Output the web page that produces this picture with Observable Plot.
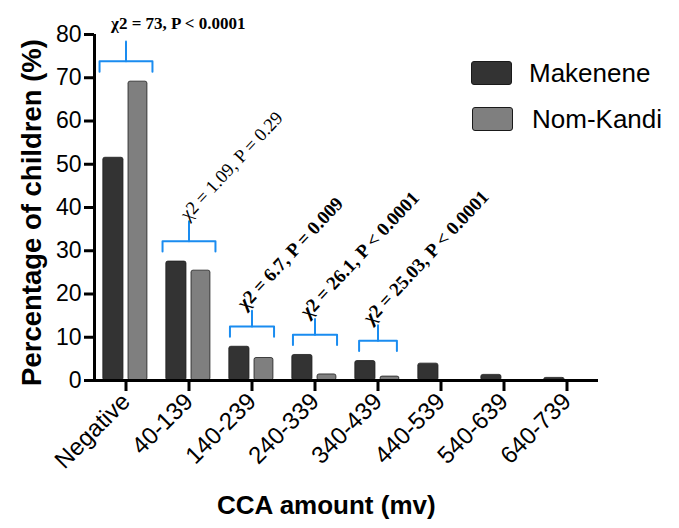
<!DOCTYPE html>
<html><head><meta charset="utf-8">
<script src="https://cdn.jsdelivr.net/npm/d3@7"></script>
<script src="https://cdn.jsdelivr.net/npm/@observablehq/plot@0.6"></script>
<style>
body{margin:0;background:#fff}
#wrap{position:relative;width:679px;height:528px}
.sw{position:absolute;width:39px;height:22px;border-radius:3px;border:1px solid #1a1a1a}
.lt{position:absolute;font-family:"Liberation Sans",Arial,sans-serif;font-size:26px;line-height:26px;color:#000}
</style></head><body><div id="wrap"></div><script>
const categories = ["Negative","40-139","140-239","240-339","340-439","440-539","540-639","640-739"];
const seriesNames = ["Makenene","Nom-Kandi"];
const makenene = [51.5, 27.5, 7.8, 5.9, 4.5, 3.9, 1.3, 0.6];
const nomKandi = [69.1, 25.4, 5.2, 1.4, 0.9, 0, 0, 0];
const yTicks = [0,10,20,30,40,50,60,70,80];
const testCategories = ["Negative","40-139","140-239","240-339","340-439"];
const testLabels = ["χ2 = 73, P < 0.0001","χ2 = 1.09, P = 0.29","χ2 = 6.7, P = 0.009","χ2 = 26.1, P < 0.0001","χ2 = 25.03, P < 0.0001"];
const testBold = [true,false,true,true,true];
const xTitle = "CCA amount (mv)";
const yTitle = "Percentage of children (%)";

const colors = ["#333333","#7f7f7f"];
const sans = "Liberation Sans, Arial, sans-serif";
const serif = "Liberation Serif, Times New Roman, serif";

const barRows = categories.flatMap((c,i) => [
  {cat:c, series:seriesNames[0], value:makenene[i]},
  {cat:c, series:seriesNames[1], value:nomKandi[i]}
]);
const barPos = {"Makenene":[0.14,0.46], "Nom-Kandi":[0.54,0.84]};

const tests = testCategories.map((c,i) => {
  const k = categories.indexOf(c);
  const base = Math.max(makenene[k], nomKandi[k]);
  return {cat:c, label:testLabels[i], bold:testBold[i], i,
          yH: base + 4.7, yEnd: base + 2.3, yTop: base + 4.7 + (i < 2 ? 4.6 : 3.6),
          h: i < 2 ? 0.42 : (i < 4 ? 0.35 : 0.3)};
});
const bracketPts = tests.flatMap(t => [
  {cat:t.cat, id:t.i+"b", x:0.5-t.h, y:t.yEnd},
  {cat:t.cat, id:t.i+"b", x:0.5-t.h, y:t.yH},
  {cat:t.cat, id:t.i+"b", x:0.5+t.h, y:t.yH},
  {cat:t.cat, id:t.i+"b", x:0.5+t.h, y:t.yEnd},
  {cat:t.cat, id:t.i+"s", x:0.5, y:t.yH},
  {cat:t.cat, id:t.i+"s", x:0.5, y:t.yTop}
]);

const chart = Plot.plot({
  width: 679, height: 528,
  marginLeft: 93, marginRight: 81, marginTop: 34, marginBottom: 148,
  style: {background:"white", color:"black", fontFamily: sans, overflow:"visible"},
  fx: {domain: categories, padding: 0, label: null},
  x: {domain: [0,1], axis: null},
  y: {domain: [0,80]},
  color: {domain: seriesNames, range: colors},
  marks: [
    Plot.rect(barRows.filter(d => d.value > 0), {
      fx:"cat", x1: d => barPos[d.series][0], x2: d => barPos[d.series][1],
      y1: 0, y2: "value", fill:"series", stroke:"#1e1e1e", strokeWidth:0.8, rx:2
    }),
    Plot.ruleY([0], {strokeWidth:3}),
    Plot.ruleX([{cat:"Negative"}], {fx:"cat", x:0, y1:0, y2:80, strokeWidth:3}),
    Plot.axisY({ticks: yTicks, tickSize:10, tickPadding:3, fontSize:23, strokeWidth:3, label:null}),
    Plot.axisFx({anchor:"bottom", tickSize:11, tickPadding:6, tickRotate:-45, fontSize:24, strokeWidth:3, label:null}),
    Plot.line(bracketPts, {fx:"cat", x:"x", y:"y", z:"id", stroke:"#1a8cf0", strokeWidth:2, strokeLinejoin:"round", strokeLinecap:"round"}),
    Plot.text(tests.filter(t => t.i === 0), {fx:"cat", x:1.33, y:"yTop", dy:-18, text:"label",
      fontFamily: serif, fontWeight:"bold", fontSize:17, textAnchor:"middle"}),
    Plot.text(tests.filter(t => t.i > 0 && t.bold), {fx:"cat", x:0.5, y:"yTop", dx:-7, dy:0, text:"label",
      fontFamily: serif, fontWeight:"bold", fontSize:19, rotate:-47, textAnchor:"start", lineAnchor:"bottom"}),
    Plot.text(tests.filter(t => t.i > 0 && !t.bold), {fx:"cat", x:0.5, y:"yTop", dx:-1, dy:0, text:"label",
      fontFamily: serif, fontWeight:"normal", fontSize:18.5, rotate:-47, textAnchor:"start", lineAnchor:"bottom"}),
    Plot.text([{cat:"Negative", t:yTitle}], {fx:"cat", frameAnchor:"left", text:"t", rotate:-90, dx:-62, dy:5,
      textAnchor:"middle", fontSize:27.5, fontWeight:"bold", fontFamily: sans}),
    Plot.text([{cat:"240-339", t:xTitle}], {fx:"cat", x:0.68, frameAnchor:"bottom", text:"t", dy:133,
      textAnchor:"middle", fontSize:26, fontWeight:"bold", fontFamily: sans})
  ]
});
const wrap = document.getElementById("wrap");
wrap.appendChild(chart);
const legendTops = [61, 107];
seriesNames.forEach((s,i) => {
  const sw = document.createElement("div");
  sw.className = "sw";
  sw.style.left = (471 + i) + "px"; sw.style.top = legendTops[i] + "px";
  sw.style.background = colors[i];
  wrap.appendChild(sw);
  const t = document.createElement("div");
  t.className = "lt"; t.textContent = s;
  t.style.left = (529 + 3*i) + "px"; t.style.top = (legendTops[i] - 1) + "px";
  wrap.appendChild(t);
});
</script></body></html>
